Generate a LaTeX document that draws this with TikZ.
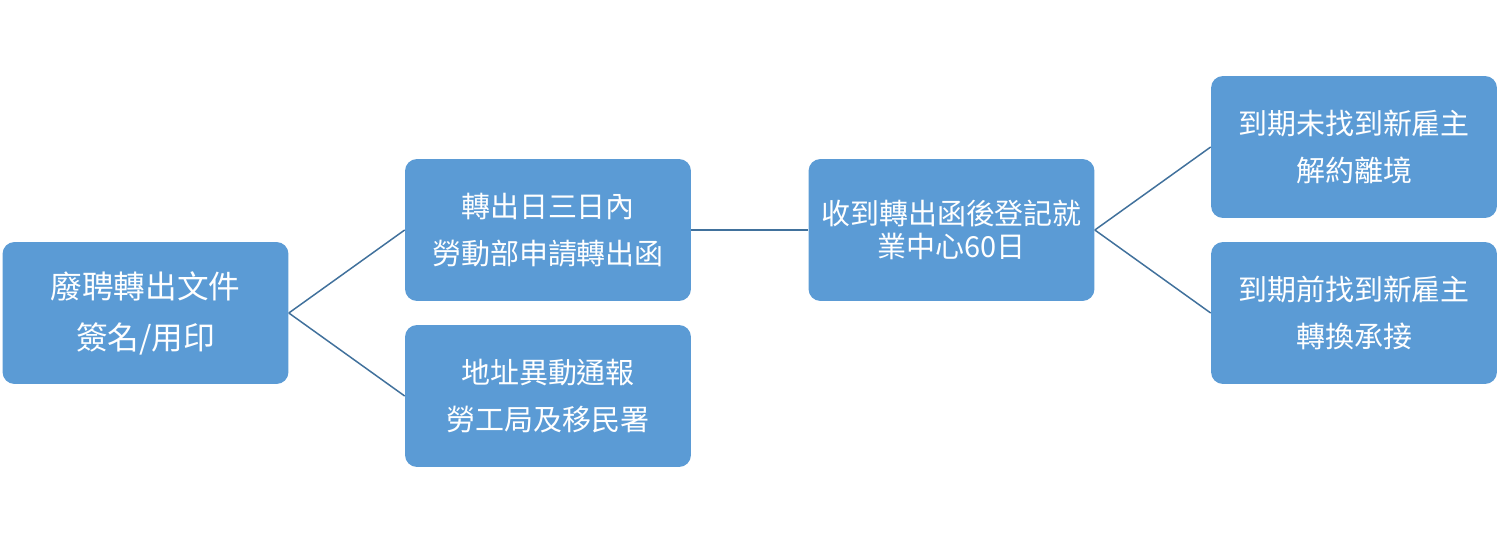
\documentclass[tikz,border=0pt]{standalone}
\usepackage{fontspec}
\setmainfont{Noto Sans CJK TC}
\definecolor{boxfill}{HTML}{5B9BD5}
\definecolor{linkcol}{HTML}{41719C}

\begin{document}
\begin{tikzpicture}[x=0.02cm,y=-0.02cm]
        \tikzstyle{box}=[rectangle,rounded corners=0.24cm,fill=boxfill,text=white,
                         minimum width=5.72cm,minimum height=2.84cm,inner sep=0pt,align=center]
        \tikzstyle{big}=[font=\fontsize{18}{29}\selectfont]
        \tikzstyle{mid}=[font=\fontsize{16.5}{27}\selectfont]
        \tikzstyle{tight}=[font=\fontsize{16.5}{19}\selectfont]
        \tikzstyle{link}=[draw=linkcol,line width=0.85pt]

        \useasboundingbox (0,0) rectangle (1500,544);

        \foreach \name/\x/\y/\sty/\text in {S-1/145.5/313/big/{廢聘轉出文件\\簽名/用印},
                                            S-2/548/230/mid/{轉出日三日內\\勞動部申請轉出函},
                                            S-3/548/396/mid/{地址異動通報\\勞工局及移民署},
                                            S-4/951.5/230/tight/{收到轉出函後登記就\\業中心60日},
                                            S-5/1354/147/mid/{到期未找到新雇主\\解約離境},
                                            S-6/1354/313/mid/{到期前找到新雇主\\轉換承接}}
          \node[box,\sty] (\name) at (\x,\y) {\text};

        \foreach \from/\to in {1/2,1/3,2/4,4/5,4/6}
          { \draw[link] (S-\from.east) -- (S-\to.west); }
      \end{tikzpicture}
\end{document}
